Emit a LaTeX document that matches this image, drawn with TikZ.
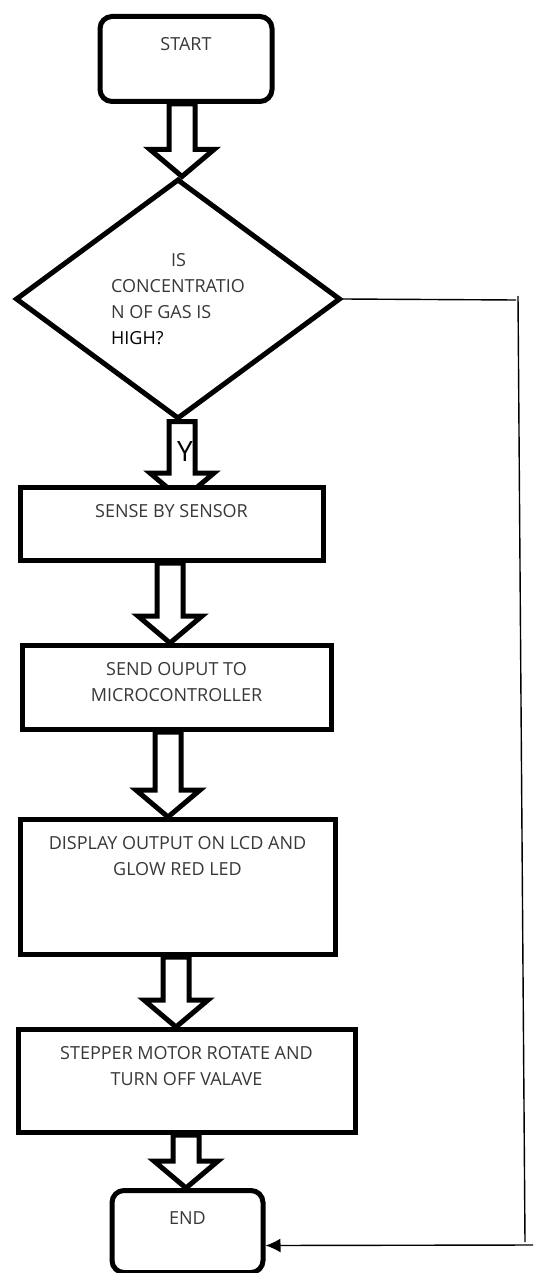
\documentclass[tikz,border=0pt]{standalone}
\usepackage{fontspec}
\setmainfont{Open Sans}
\usetikzlibrary{shapes.geometric,calc,backgrounds,arrows.meta}

\definecolor{txtgray}{gray}{0.22}

\tikzset{
  procbox/.style={draw, line width=2.5pt, fill=white, anchor=north, inner xsep=0pt, inner ysep=8.5pt, text=txtgray},
  termbox/.style={procbox, rounded corners=6pt, inner ysep=10.5pt},
  decision/.style={draw, diamond, line width=2.5pt, fill=white, aspect=1.35, minimum width=162.5pt, minimum height=120pt, inner sep=0pt, align=left, text=txtgray},
  fatarrow/.style={draw, line width=2.5pt, fill=white},
  loopline/.style={line width=0.7pt},
}

% text block hung from the top of a box
\newcommand{\toptext}[3]{\parbox[t][#2][t]{#1}{\centering #3}}

% hollow block arrow at pixel column #2, from node #3 down to node #4
\newcommand{\blockarrow}[4][0]{%
  \pgfmathsetmacro{\ax}{#2*0.5}%
  \pgfmathsetmacro{\ov}{#1*0.5}%
  \draw[fatarrow] let \p1=(#3.south), \p2=(#4.north) in
    ({\ax pt-6.5pt},\y1) -- ({\ax pt-6.5pt},{\y2-\ov pt+13.5pt})
    -- ({\ax pt-16pt},{\y2-\ov pt+13.5pt}) -- ({\ax pt},{\y2-\ov pt})
    -- ({\ax pt+16pt},{\y2-\ov pt+13.5pt}) -- ({\ax pt+6.5pt},{\y2-\ov pt+13.5pt})
    -- ({\ax pt+6.5pt},\y1) -- cycle;
}

\begin{document}
\begin{tikzpicture}[x=0.5pt, y=-0.5pt, font=\fontsize{9}{13}\selectfont]
    \useasboundingbox (0,0) rectangle (537,1273);

    % Flow boxes
    \node[termbox] (start) at (186,14) {\toptext{86pt}{21.5pt}{START}};
    \node[decision] (dec) at (178,299) {\hspace*{30pt}IS\\CONCENTRATIO\\N OF GAS IS\\\textcolor{black}{HIGH?}};
    \node[procbox] (sense) at (171.5,485) {\toptext{151.5pt}{19.5pt}{SENSE BY SENSOR}};
    \node[procbox] (send) at (176.5,643) {\toptext{154.5pt}{25pt}{SEND OUPUT TO\\MICROCONTROLLER}};
    \node[procbox] (disp) at (177.5,817) {\toptext{157.5pt}{50.5pt}{DISPLAY OUTPUT ON LCD AND\\GLOW RED LED}};
    \node[procbox] (stepper) at (186.5,1027) {\toptext{168.5pt}{34.5pt}{STEPPER MOTOR ROTATE AND\\TURN OFF VALAVE}};
    \node[termbox] (finish) at (187.5,1188) {\toptext{75.5pt}{20pt}{END}};

    \node[font=\fontsize{14}{16}\selectfont] (ylab) at (185,452) {Y};

    % Block arrows, behind the boxes
    \begin{scope}[on background layer]
        \foreach \col/\a/\b in {182/start/dec, 170/sense/send, 168/send/disp, 176/disp/stepper, 186/stepper/finish} {
            \blockarrow{\col}{\a}{\b}
        }
        \blockarrow[15]{182}{dec}{sense}
    \end{scope}

    % Loop back from the decision to END
    \coordinate (c1) at (516,300);
    \coordinate (c2) at (518,296);
    \coordinate (c3) at (525,1242);
    \coordinate (c4) at (533,1245);
    \draw[loopline] (dec.east) -- (c1);
    \draw[loopline] (c2) -- (c3);
    \draw[loopline, -{Latex[length=7.5pt, width=7pt]}] (c4) -- ([yshift=-7pt]finish.east);
\end{tikzpicture}
\end{document}
